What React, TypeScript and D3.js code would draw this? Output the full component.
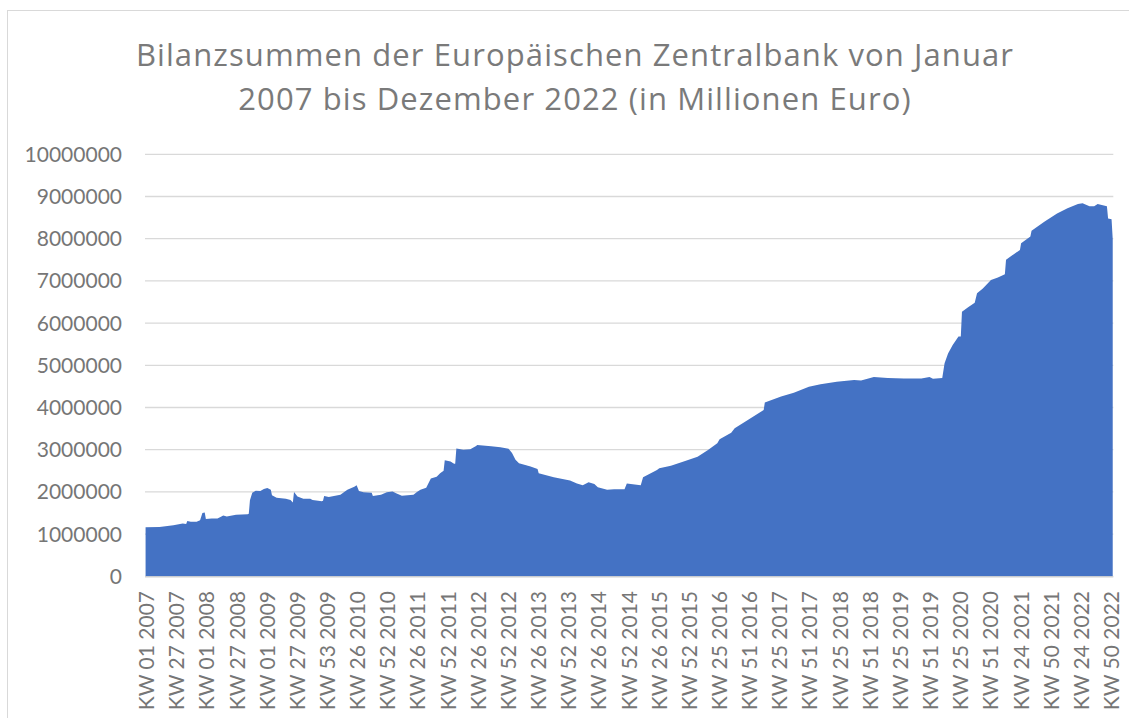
import React, { useEffect, useRef } from "react";
import * as d3 from "d3";

// Wochen je Jahr (ISO-Kalenderwochen), daraus die Kategorien der x-Achse
const years = [2007, 2008, 2009, 2010, 2011, 2012, 2013, 2014, 2015, 2016, 2017, 2018, 2019, 2020, 2021, 2022];
const weeksInYear = [52, 52, 53, 52, 52, 52, 52, 52, 53, 52, 52, 52, 52, 53, 52, 52];

const kw = (w: number, y: number) => `KW ${String(w).padStart(2, "0")} ${y}`;
const categories = years.flatMap((y, i) => d3.range(1, weeksInYear[i] + 1).map((w) => kw(w, y)));

const sampleWeeks = [
  "KW 01 2007", "KW 13 2007", "KW 25 2007", "KW 33 2007", "KW 36 2007", "KW 37 2007", "KW 40 2007", "KW 45 2007", "KW 48 2007", "KW 50 2007", "KW 52 2007",
  "KW 01 2008", "KW 06 2008", "KW 11 2008", "KW 14 2008", "KW 16 2008", "KW 19 2008", "KW 27 2008", "KW 37 2008", "KW 38 2008", "KW 39 2008", "KW 41 2008", "KW 44 2008", "KW 48 2008", "KW 51 2008",
  "KW 02 2009", "KW 05 2009", "KW 06 2009", "KW 10 2009", "KW 18 2009", "KW 22 2009", "KW 24 2009", "KW 25 2009", "KW 28 2009", "KW 33 2009", "KW 39 2009", "KW 41 2009", "KW 49 2009", "KW 50 2009", "KW 51 2009",
  "KW 02 2010", "KW 12 2010", "KW 18 2010", "KW 24 2010", "KW 26 2010", "KW 28 2010", "KW 32 2010", "KW 39 2010", "KW 40 2010", "KW 47 2010", "KW 52 2010",
  "KW 05 2011", "KW 08 2011", "KW 13 2011", "KW 23 2011", "KW 26 2011", "KW 29 2011", "KW 34 2011", "KW 38 2011", "KW 43 2011", "KW 46 2011", "KW 49 2011", "KW 50 2011",
  "KW 03 2012", "KW 06 2012", "KW 07 2012", "KW 08 2012", "KW 14 2012", "KW 20 2012", "KW 25 2012", "KW 26 2012", "KW 38 2012", "KW 46 2012",
  "KW 01 2013", "KW 04 2013", "KW 07 2013", "KW 10 2013", "KW 20 2013", "KW 26 2013", "KW 27 2013", "KW 40 2013",
  "KW 02 2014", "KW 08 2014", "KW 13 2014", "KW 18 2014", "KW 23 2014", "KW 26 2014", "KW 34 2014", "KW 40 2014", "KW 49 2014", "KW 51 2014",
  "KW 11 2015", "KW 13 2015", "KW 25 2015", "KW 27 2015", "KW 37 2015", "KW 48 2015",
  "KW 07 2016", "KW 16 2016", "KW 24 2016", "KW 26 2016", "KW 36 2016", "KW 39 2016", "KW 50 2016",
  "KW 12 2017", "KW 13 2017", "KW 27 2017", "KW 38 2017", "KW 51 2017",
  "KW 09 2018", "KW 23 2018", "KW 38 2018", "KW 44 2018",
  "KW 03 2019", "KW 15 2019", "KW 29 2019", "KW 44 2019", "KW 51 2019",
  "KW 02 2020", "KW 10 2020", "KW 12 2020", "KW 15 2020", "KW 19 2020", "KW 24 2020", "KW 26 2020", "KW 27 2020", "KW 32 2020", "KW 38 2020", "KW 40 2020", "KW 45 2020", "KW 52 2020",
  "KW 05 2021", "KW 11 2021", "KW 12 2021", "KW 19 2021", "KW 24 2021", "KW 25 2021", "KW 33 2021", "KW 34 2021", "KW 45 2021",
  "KW 04 2022", "KW 13 2022", "KW 22 2022", "KW 26 2022", "KW 32 2022", "KW 36 2022", "KW 39 2022", "KW 47 2022", "KW 48 2022", "KW 51 2022", "KW 52 2022",
];

const sampleValues = [
  1160000, 1170000, 1210000, 1250000, 1240000, 1310000, 1290000, 1290000, 1330000, 1500000, 1510000,
  1360000, 1370000, 1370000, 1410000, 1440000, 1420000, 1460000, 1470000, 1480000, 1800000, 1980000, 2030000, 2020000, 2070000,
  2090000, 2050000, 1920000, 1860000, 1840000, 1810000, 1750000, 2000000, 1890000, 1840000, 1840000, 1810000, 1780000, 1790000, 1900000,
  1880000, 1930000, 2050000, 2120000, 2160000, 2020000, 1990000, 1980000, 1900000, 1930000, 1990000,
  2010000, 1970000, 1910000, 1930000, 2000000, 2050000, 2100000, 2320000, 2360000, 2440000, 2500000, 2750000,
  2720000, 2670000, 2670000, 3030000, 3000000, 3010000, 3090000, 3110000, 3080000, 3060000,
  3020000, 2920000, 2760000, 2680000, 2600000, 2540000, 2440000, 2350000,
  2270000, 2200000, 2160000, 2230000, 2190000, 2110000, 2050000, 2060000, 2060000, 2200000,
  2160000, 2350000, 2520000, 2560000, 2620000, 2720000,
  2830000, 2990000, 3150000, 3250000, 3400000, 3510000, 3700000,
  3940000, 4120000, 4260000, 4350000, 4490000,
  4550000, 4610000, 4650000, 4640000,
  4720000, 4700000, 4690000, 4690000, 4720000,
  4680000, 4700000, 5050000, 5280000, 5480000, 5680000, 5680000, 6270000, 6370000, 6480000, 6710000, 6820000, 7020000,
  7080000, 7160000, 7500000, 7640000, 7730000, 7890000, 8050000, 8190000, 8400000,
  8600000, 8720000, 8820000, 8840000, 8770000, 8770000, 8820000, 8770000, 8480000, 8460000, 7990000,
];

const xTickLabels = [
  "KW 01 2007", "KW 27 2007", "KW 01 2008", "KW 27 2008", "KW 01 2009", "KW 27 2009", "KW 53 2009",
  "KW 26 2010", "KW 52 2010", "KW 26 2011", "KW 52 2011", "KW 26 2012", "KW 52 2012", "KW 26 2013",
  "KW 52 2013", "KW 26 2014", "KW 52 2014", "KW 26 2015", "KW 52 2015", "KW 25 2016", "KW 51 2016",
  "KW 25 2017", "KW 51 2017", "KW 25 2018", "KW 51 2018", "KW 25 2019", "KW 51 2019", "KW 25 2020",
  "KW 51 2020", "KW 24 2021", "KW 50 2021", "KW 24 2022", "KW 50 2022",
];

const yTicks = [0, 1000000, 2000000, 3000000, 4000000, 5000000, 6000000, 7000000, 8000000, 9000000, 10000000];

const titleLines = [
  "Bilanzsummen der Europäischen Zentralbank von Januar",
  "2007 bis Dezember 2022 (in Millionen Euro)",
];

const App = () => {
  const svgRef = useRef<SVGSVGElement>(null);

  useEffect(() => {
    const width = 1129;
    const height = 718;
    const plot = { left: 145, right: 1113.3, top: 154.3, bottom: 576.3 };
    const font = "Lato, 'Open Sans', sans-serif";
    const textColor = "#767676";

    const svg = d3.select(svgRef.current);
    svg.selectAll("*").remove();
    svg.attr("width", width).attr("height", height);

    svg.append("rect").attr("width", width).attr("height", height).attr("fill", "#fff");
    // Rahmen des Diagrammbereichs
    svg
      .append("rect")
      .attr("x", 7.5)
      .attr("y", 10.5)
      .attr("width", 1200)
      .attr("height", 800)
      .attr("fill", "none")
      .attr("stroke", "#d9d9d9");

    const x = d3.scaleBand().domain(categories).range([plot.left, plot.right]).padding(0);
    const y = d3.scaleLinear().domain([0, 10000000]).range([plot.bottom, plot.top]);
    const bw = x.bandwidth();

    // Titel
    svg
      .append("g")
      .selectAll("text")
      .data(titleLines)
      .enter()
      .append("text")
      .attr("x", 575)
      .attr("y", (d, i) => 66 + i * 44)
      .attr("text-anchor", "middle")
      .attr("font-family", "'Open Sans', Lato, sans-serif")
      .attr("font-size", 31)
      .attr("letter-spacing", 1.1)
      .attr("fill", "#7a7a7a")
      .text((d) => d);

    // Gitterlinien
    svg
      .append("g")
      .selectAll("line")
      .data(yTicks)
      .enter()
      .append("line")
      .attr("x1", plot.left)
      .attr("x2", plot.right)
      .attr("y1", (d) => y(d))
      .attr("y2", (d) => y(d))
      .attr("stroke", "#d9d9d9")
      .attr("stroke-width", 1.3);

    // y-Achse
    svg
      .append("g")
      .selectAll("text")
      .data(yTicks)
      .enter()
      .append("text")
      .attr("x", 122)
      .attr("y", (d) => y(d))
      .attr("dy", "0.36em")
      .attr("text-anchor", "end")
      .attr("font-family", font)
      .attr("font-size", 21)
      .attr("fill", textColor)
      .text((d) => String(d));

    // Fläche
    const points = sampleWeeks.map((w, i) => [w, sampleValues[i]] as [string, number]);
    const area = d3
      .area<[string, number]>()
      .x((d) => (x(d[0]) as number) + bw / 2)
      .y0(y(0))
      .y1((d) => y(d[1]));

    svg.append("path").datum(points).attr("d", area).attr("fill", "#4472C4");

    // x-Achse
    svg
      .append("line")
      .attr("x1", plot.left)
      .attr("x2", plot.right)
      .attr("y1", plot.bottom + 0.5)
      .attr("y2", plot.bottom + 0.5)
      .attr("stroke", "#d0d0d0")
      .attr("stroke-width", 1.3);

    svg
      .append("g")
      .selectAll("text")
      .data(xTickLabels)
      .enter()
      .append("text")
      .attr("transform", (d) => `translate(${(x(d) as number) + bw / 2 + 1},591) rotate(-90)`)
      .attr("dy", "0.36em")
      .attr("text-anchor", "end")
      .attr("font-family", font)
      .attr("font-size", 21)
      .attr("fill", textColor)
      .text((d) => d);
  }, []);

  return <svg ref={svgRef} style={{ position: "absolute", left: 0, top: 0 }}></svg>;
};

export default App;
